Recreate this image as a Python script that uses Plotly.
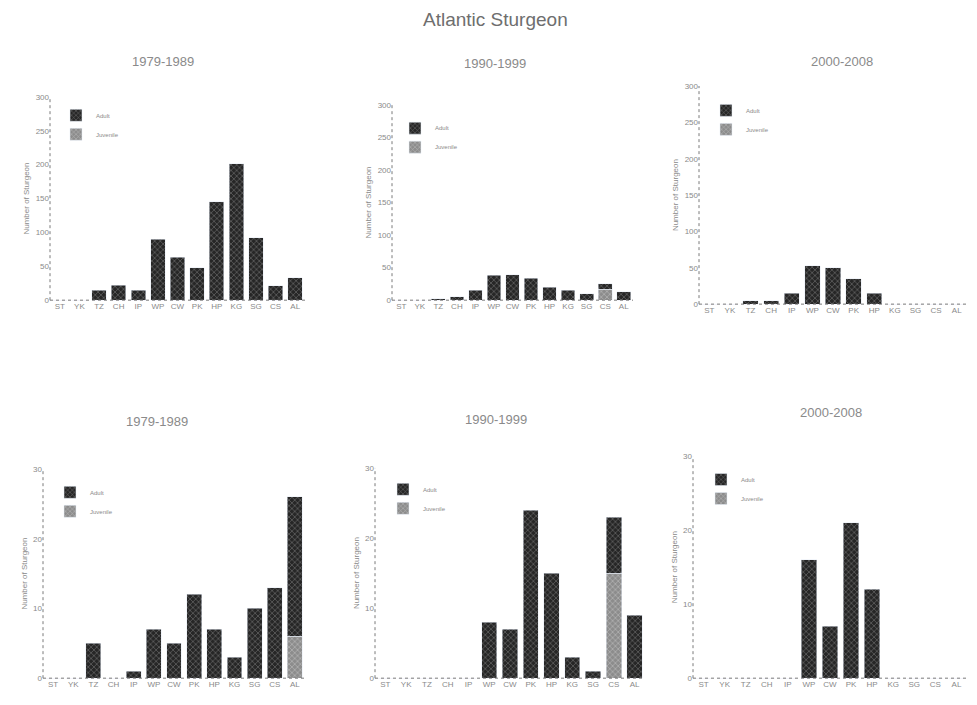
import plotly.graph_objects as go

# page has an 8px body margin, so the figure is drawn 16px smaller and shifted
OFF = 8
W, H = 977 - 2 * OFF, 705 - 2 * OFF

categories = ["ST", "YK", "TZ", "CH", "IP", "WP", "CW", "PK", "HP", "KG", "SG", "CS", "AL"]
period_titles = ["1979-1989", "1990-1999", "2000-2008", "1979-1989", "1990-1999", "2000-2008"]
series_names = ["Adult", "Juvenile"]

# top row (0-300 scale)
tl_dark = [0, 0, 15, 22, 15, 90, 63, 48, 145, 201, 92, 21, 33]
tl_light = [0, 0, 0, 0, 0, 0, 0, 0, 0, 0, 0, 0, 0]
tm_dark = [0, 0, 2, 5, 15, 38, 39, 34, 20, 15, 10, 8, 13]
tm_light = [0, 0, 0, 0, 0, 0, 0, 0, 0, 0, 0, 17, 0]
tr_dark = [0, 0, 5, 5, 15, 53, 50, 35, 15, 0, 0, 0, 0]
tr_light = [0, 0, 0, 0, 0, 0, 0, 0, 0, 0, 0, 0, 0]
# bottom row (0-30 scale)
bl_dark = [0, 0, 5, 0, 1, 7, 5, 12, 7, 3, 10, 13, 20]
bl_light = [0, 0, 0, 0, 0, 0, 0, 0, 0, 0, 0, 0, 6]
bm_dark = [0, 0, 0, 0, 0, 8, 7, 24, 15, 3, 1, 8, 9]
bm_light = [0, 0, 0, 0, 0, 0, 0, 0, 0, 0, 0, 15, 0]
br_dark = [0, 0, 0, 0, 0, 16, 7, 21, 12, 0, 0, 0, 0]
br_light = [0, 0, 0, 0, 0, 0, 0, 0, 0, 0, 0, 0, 0]

top_ticks = [0, 50, 100, 150, 200, 250, 300]
bottom_ticks = [0, 10, 20, 30]

panels = [
    (tl_dark, tl_light, (50, 305), (94, 300), 300, top_ticks, (163, 58), (56, 98)),
    (tm_dark, tm_light, (392, 633), (102, 300), 300, top_ticks, (495, 60), (395, 111)),
    (tr_dark, tr_light, (699, 967), (83, 304), 300, top_ticks, (842, 58), (706, 93)),
    (bl_dark, bl_light, (43, 305), (471, 683), 30, bottom_ticks, (157, 423), (50, 480)),
    (bm_dark, bm_light, (375, 645), (470, 683), 30, bottom_ticks, (496, 421), (383, 477)),
    (br_dark, br_light, (693, 967), (458, 683), 30, bottom_ticks, (831, 414), (701, 467)),
]


def px(x):
    return min(1.0, max(0.0, (x - OFF) / W))


def py(y):
    return min(1.0, max(0.0, 1 - (y - OFF) / H))


TXT = "#8a8a8a"
DARK = dict(color="#262626", pattern=dict(shape="x", fgcolor="#d0d0d0", bgcolor="#262626", size=4, solidity=0.25))
LIGHT = dict(color="#8c8c8c", pattern=dict(shape="x", fgcolor="#e4e4e4", bgcolor="#8c8c8c", size=4, solidity=0.3))

fig = go.Figure()
layout = dict(
    width=W, height=H,
    margin=dict(l=0, r=0, t=0, b=0),
    paper_bgcolor="white", plot_bgcolor="white",
    barmode="stack", bargap=0.26,
    font=dict(family="Liberation Sans, Arial, sans-serif", color=TXT),
    showlegend=True,
)
annotations = [dict(text="Atlantic Sturgeon", x=px(496), y=py(16), xref="paper", yref="paper",
                    showarrow=False, font=dict(size=19, color="#6e6e6e"), xanchor="center", yanchor="middle")]
shapes = []

for i, (dark, light, (x0, x1), (y0, y1), ymax, ticks, (tx, ty), (lx, ly)) in enumerate(panels):
    n = "" if i == 0 else str(i + 1)
    leg = "legend" if i == 0 else f"legend{i + 1}"
    fig.add_trace(go.Bar(x=categories, y=light, name=series_names[1], marker=LIGHT,
                         xaxis="x" + n, yaxis="y" + n, legend=leg))
    fig.add_trace(go.Bar(x=categories, y=dark, name=series_names[0], marker=DARK,
                         xaxis="x" + n, yaxis="y" + n, legend=leg))
    layout["xaxis" + n] = dict(domain=[px(x0), px(x1)], anchor="y" + n, showgrid=False, showline=False,
                               zeroline=False, ticks="", tickfont=dict(size=8, color=TXT),
                               range=[-0.5, len(categories) - 0.5], fixedrange=True, tickangle=0)
    layout["yaxis" + n] = dict(domain=[py(y1), py(y0)], anchor="x" + n, showgrid=False,
                               showline=False, zeroline=False, range=[0, ymax], tickvals=ticks,
                               ticks="", tickfont=dict(size=8, color=TXT),
                               title=dict(text="Number of Sturgeon", font=dict(size=8, color=TXT), standoff=4))
    layout[leg] = dict(x=px(lx), y=py(ly), xanchor="left", yanchor="top",
                       font=dict(size=6, color=TXT), bgcolor="rgba(0,0,0,0)",
                       itemwidth=30, tracegroupgap=0, traceorder="reversed")
    annotations.append(dict(text=period_titles[i], x=px(tx), y=py(ty), xref="paper", yref="paper",
                            showarrow=False, font=dict(size=13, color=TXT), xanchor="center", yanchor="middle"))
    shapes.append(dict(type="line", xref=f"x{n} domain", yref=f"y{n} domain", x0=0, x1=1, y0=0, y1=0,
                       line=dict(color="#7a7a7a", width=1, dash="dot")))
    shapes.append(dict(type="line", xref=f"x{n} domain", yref=f"y{n} domain", x0=0, x1=0, y0=0, y1=1,
                       line=dict(color="#7a7a7a", width=1, dash="dot")))

layout["annotations"] = annotations
layout["shapes"] = shapes
fig.update_layout(**layout)
fig.write_html("out.html")
